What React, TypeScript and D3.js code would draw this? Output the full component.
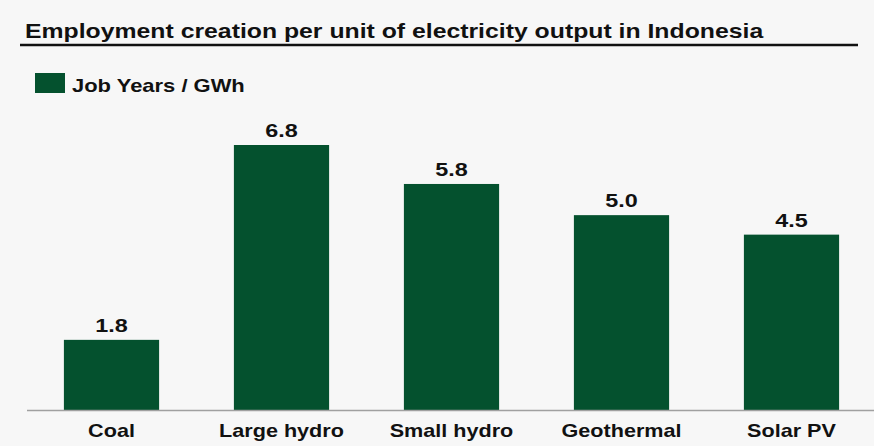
import { useRef, useEffect } from "react";
import * as d3 from "d3";

// chart data
const categories = ["Coal", "Large hydro", "Small hydro", "Geothermal", "Solar PV"];
const jobYears = [1.8, 6.8, 5.8, 5.0, 4.5];
const seriesName = "Job Years / GWh";
const title = "Employment creation per unit of electricity output in Indonesia";

const App: React.FC = () => {
  const svgRef = useRef<SVGSVGElement | null>(null);

  useEffect(() => {
    const width = 874;
    const height = 446;
    const baseY = 410;
    const font = "'Liberation Sans', Arial, sans-serif";
    const green = "#04512e";

    const svg = d3.select(svgRef.current).attr("width", width).attr("height", height);
    svg.selectAll("*").remove();

    svg.append("rect").attr("width", width).attr("height", height).attr("fill", "#f7f7f7");

    // title + rule
    svg.append("text")
      .attr("transform", "translate(25,38) scale(1.24,1)")
      .attr("font-family", font)
      .attr("font-weight", "bold")
      .attr("font-size", 20)
      .attr("fill", "#111")
      .text(title);
    svg.append("line")
      .attr("x1", 20).attr("x2", 858).attr("y1", 45).attr("y2", 45)
      .attr("stroke", "#111").attr("stroke-width", 2.5);

    // legend
    svg.append("rect").attr("x", 35).attr("y", 73).attr("width", 30).attr("height", 20).attr("fill", green);
    svg.append("text")
      .attr("transform", "translate(72,92) scale(1.22,1)")
      .attr("font-family", font)
      .attr("font-weight", "bold")
      .attr("font-size", 18)
      .attr("fill", "#111")
      .text(seriesName);

    const x = d3.scaleBand<string>()
      .domain(categories)
      .range([26.5, 876.5])
      .paddingInner(0.44)
      .paddingOuter(0.22);

    const y = d3.scaleLinear().domain([0, 6.8]).range([baseY, 145]);

    // bars
    svg.selectAll(".bar")
      .data(categories)
      .join("rect")
      .attr("class", "bar")
      .attr("x", d => x(d) as number)
      .attr("y", (_, i) => y(jobYears[i]))
      .attr("width", x.bandwidth())
      .attr("height", (_, i) => baseY - y(jobYears[i]))
      .attr("fill", green);

    // value labels
    svg.selectAll(".val")
      .data(categories)
      .join("text")
      .attr("class", "val")
      .attr("transform", (d, i) => `translate(${(x(d) as number) + x.bandwidth() / 2},${y(jobYears[i]) - 8}) scale(1.3,1)`)
      .attr("text-anchor", "middle")
      .attr("font-family", font)
      .attr("font-weight", "bold")
      .attr("font-size", 18)
      .attr("fill", "#111")
      .text((_, i) => jobYears[i].toFixed(1));

    // x axis
    svg.append("line")
      .attr("x1", 27).attr("x2", 874).attr("y1", baseY + 0.5).attr("y2", baseY + 0.5)
      .attr("stroke", "#a0a0a0").attr("stroke-width", 1.5);

    svg.selectAll(".cat")
      .data(categories)
      .join("text")
      .attr("class", "cat")
      .attr("transform", d => `translate(${(x(d) as number) + x.bandwidth() / 2},437) scale(1.2,1)`)
      .attr("text-anchor", "middle")
      .attr("font-family", font)
      .attr("font-weight", "bold")
      .attr("font-size", 18)
      .attr("fill", "#111")
      .text(d => d);
  }, []);

  return <svg ref={svgRef} style={{ position: "absolute", left: 0, top: 0 }} />;
};

export default App;
